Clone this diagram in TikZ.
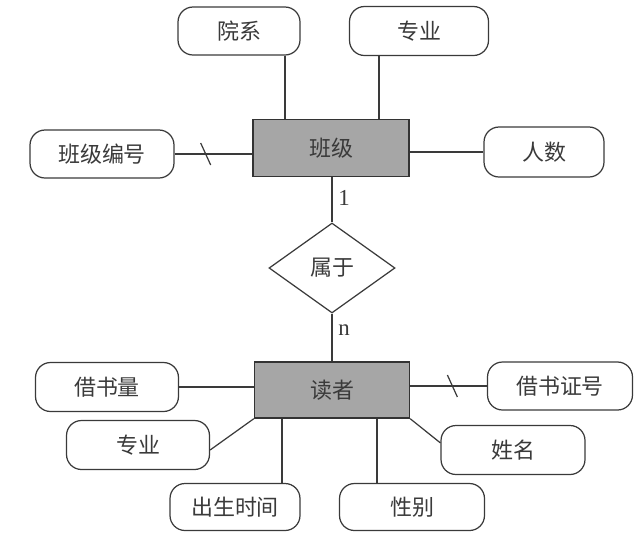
\documentclass[tikz,border=0pt]{standalone}
\usepackage{fontspec}
\setmainfont{Noto Sans CJK SC}
\newfontfamily\cardfont{Liberation Serif}
\usetikzlibrary{shapes.geometric}
\definecolor{entgray}{HTML}{A6A6A6}
\definecolor{inkgray}{HTML}{3A3A3A}

\tikzset{
  attr/.style={draw=inkgray, line width=0.7pt, rounded corners=0.3cm,
    minimum width=2.86cm, minimum height=0.98cm, text=inkgray,
    font=\fontsize{12.5}{15}\selectfont},
  entity/.style={draw=black!80, fill=entgray, line width=0.8pt,
    minimum width=3.1cm, minimum height=1.12cm, text=inkgray,
    font=\fontsize{12.5}{15}\selectfont},
  rel/.style={draw=inkgray, diamond, line width=0.7pt, inner sep=0pt,
    minimum width=2.52cm, minimum height=1.8cm, text=inkgray,
    font=\fontsize{12.5}{15}\selectfont},
  card/.style={right, text=inkgray, font=\cardfont\fontsize{13}{15}\selectfont},
  link/.style={draw=inkgray, line width=0.7pt}
}

\begin{document}
\begin{tikzpicture}[x=0.02cm, y=-0.02cm]
    \useasboundingbox (0,0) rectangle (641,538);
    % Entities and relationship
    \node[entity, minimum width=3.12cm, minimum height=1.14cm] (banji) at (331,148) {班级};
    \node[rel] (shuyu) at (332,268) {属于};
    \node[entity] (duzhe) at (332,390) {读者};
    % Attributes of the class
    \node[attr, minimum width=2.44cm, minimum height=0.96cm] (yuanxi) at (239,31) {院系};
    \node[attr, minimum width=2.78cm] (zhuanye1) at (419,31) {专业};
    \node[attr, minimum width=2.88cm, minimum height=0.96cm] (banjibh) at (102,154) {班级编号};
    \node[attr, minimum width=2.4cm, minimum height=1.0cm] (renshu) at (544,152) {人数};
    % Attributes of the reader
    \node[attr] (jieshul) at (107,387) {借书量};
    \node[attr] (zhuanye2) at (138,445) {专业};
    \node[attr, minimum width=2.6cm, minimum height=0.94cm] (chusheng) at (235,507) {出生时间};
    \node[attr, minimum width=2.9cm, minimum height=0.94cm] (xingbie) at (412,507) {性别};
    \node[attr, minimum width=2.88cm] (xingming) at (513,450) {姓名};
    \node[attr, minimum width=2.9cm, minimum height=0.96cm] (jieszh) at (560,386) {借书证号};
    % Class links
    \draw[link] ([xshift=0.92cm]yuanxi.south) -- ([xshift=0.92cm]yuanxi.south |- banji.north);
    \draw[link] ([xshift=-0.8cm]zhuanye1.south) -- ([xshift=-0.8cm]zhuanye1.south |- banji.north);
    \draw[link] (banjibh.east) -- coordinate[pos=0.4] (key1) (banjibh.east -| banji.west);
    \draw[link] (banji.east |- renshu.west) -- (renshu.west);
    \draw[link] ([shift={(-5,-11)}]key1) -- ([shift={(5,11)}]key1);
    % Relationship links
    \draw[link] (banji.south -| shuyu.north) -- node[card, pos=0.45] {1} (shuyu.north);
    \draw[link] (shuyu.south) -- node[card, pos=0.35] {n} (duzhe.north -| shuyu.south);
    % Reader links
    \draw[link] (jieshul.east) -- (jieshul.east -| duzhe.west);
    \draw[link] (duzhe.south west) -- ([yshift=-0.1cm]zhuanye2.east);
    \draw[link] ([xshift=-1.0cm]duzhe.south) -- ([xshift=-1.0cm]duzhe.south |- chusheng.north);
    \draw[link] ([xshift=0.9cm]duzhe.south) -- ([xshift=0.9cm]duzhe.south |- xingbie.north);
    \draw[link] (duzhe.south east) -- ([yshift=-0.36cm]xingming.north west);
    \draw[link] (duzhe.east |- jieszh.west) -- coordinate[pos=0.55] (key2) (jieszh.west);
    \draw[link] ([shift={(-5,-11)}]key2) -- ([shift={(5,11)}]key2);
\end{tikzpicture}
\end{document}
